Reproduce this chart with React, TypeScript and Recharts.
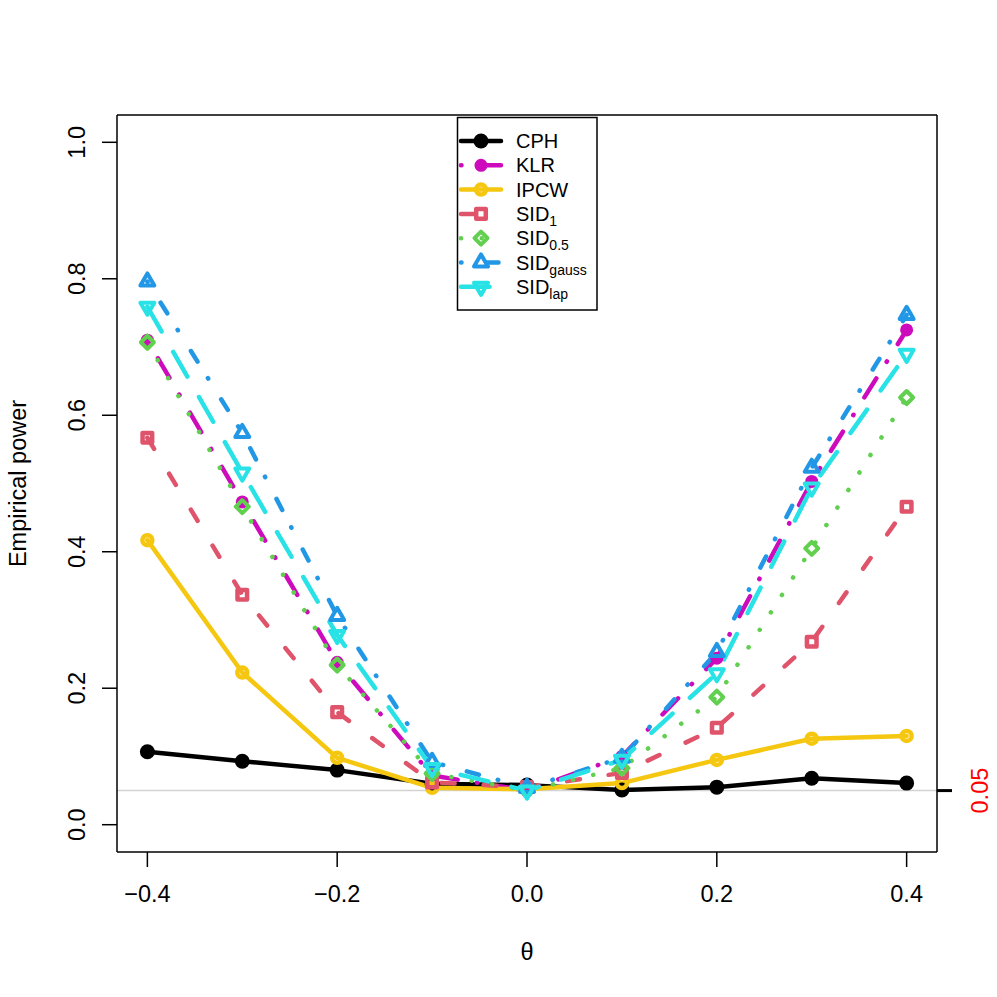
import React from 'react'
import { LineChart, Line, XAxis, YAxis, ReferenceLine } from 'recharts'

const thetaValues = [-0.4, -0.3, -0.2, -0.1, 0, 0.1, 0.2, 0.3, 0.4]
const cph = [0.107, 0.093, 0.08, 0.06, 0.058, 0.051, 0.055, 0.068, 0.061]
const klr = [0.71, 0.473, 0.238, 0.072, 0.05, 0.1, 0.244, 0.503, 0.725]
const ipcw = [0.417, 0.223, 0.098, 0.054, 0.052, 0.061, 0.095, 0.126, 0.13]
const sid1 = [0.567, 0.337, 0.165, 0.062, 0.055, 0.076, 0.142, 0.268, 0.466]
const sid05 = [0.707, 0.466, 0.234, 0.075, 0.05, 0.083, 0.187, 0.405, 0.626]
const sidGauss = [0.796, 0.574, 0.306, 0.092, 0.054, 0.098, 0.253, 0.523, 0.747]
const sidLap = [0.759, 0.516, 0.278, 0.083, 0.05, 0.095, 0.222, 0.494, 0.69]

const xTicks = [-0.4, -0.2, 0, 0.2, 0.4]
const yTicks = [0, 0.2, 0.4, 0.6, 0.8, 1.0]
const alphaLevel = 0.05

const FONT = '"Liberation Sans", Arial, Helvetica, sans-serif'
const LW = 4.5

type Marker = 'dot' | 'ring' | 'square' | 'diamond' | 'tri' | 'triDown'

interface Series {
  key: string
  name: string
  sub?: string
  color: string
  dash?: string
  marker: Marker
  size: number
}

const series: Series[] = [
  { key: 'cph', name: 'CPH', color: '#000000', marker: 'dot', size: 7.5 },
  { key: 'klr', name: 'KLR', color: '#CD0BBC', dash: '0.5 20.5 22.5 19.5', marker: 'dot', size: 6.5 },
  { key: 'ipcw', name: 'IPCW', color: '#F5C710', marker: 'ring', size: 5 },
  { key: 'sid1', name: 'SID', sub: '1', color: '#DF536B', dash: '13 29', marker: 'square', size: 4.8 },
  { key: 'sid05', name: 'SID', sub: '0.5', color: '#61D04F', dash: '0.1 20.6', marker: 'diamond', size: 6.5 },
  { key: 'sidGauss', name: 'SID', sub: 'gauss', color: '#2297E6', dash: '0.5 24.5 12.5 19.5', marker: 'tri', size: 7 },
  { key: 'sidLap', name: 'SID', sub: 'lap', color: '#28E2E5', dash: '28.5 23.5', marker: 'triDown', size: 7 },
]

const values: { [key: string]: number[] } = {
  cph, klr, ipcw, sid1, sid05, sidGauss, sidLap,
}

const data = thetaValues.map((t, i) => {
  const row: { [key: string]: number } = { theta: t }
  series.forEach(s => { row[s.key] = values[s.key][i] })
  return row
})

const drawMarker = (m: Marker, color: string, size: number, cx: number, cy: number, key?: string) => {
  const common = { fill: 'none', stroke: color, strokeWidth: 4, strokeLinejoin: 'round' as const }
  switch (m) {
    case 'dot':
      return <circle key={key} cx={cx} cy={cy} r={size} fill={color} />
    case 'ring':
      return <circle key={key} cx={cx} cy={cy} r={size} {...common} strokeWidth={4.5} />
    case 'square':
      return <rect key={key} x={cx - size} y={cy - size} width={size * 2} height={size * 2} {...common} strokeWidth={4.5} />
    case 'diamond':
      return <polygon key={key} points={`${cx},${cy - size} ${cx + size},${cy} ${cx},${cy + size} ${cx - size},${cy}`} {...common} />
    case 'tri': {
      const r = size * 1.155
      return <polygon key={key} points={`${cx},${cy - r} ${cx + size},${cy + r / 2} ${cx - size},${cy + r / 2}`} {...common} />
    }
    case 'triDown': {
      const r = size * 1.155
      return <polygon key={key} points={`${cx},${cy + r} ${cx + size},${cy - r / 2} ${cx - size},${cy - r / 2}`} {...common} />
    }
  }
}

const fmtX = (v: number) => (v < 0 ? '\u2212' + Math.abs(v).toFixed(1) : v.toFixed(1))

const XTick = (props: any) => {
  const { x, y, payload } = props
  return (
    <text x={x} y={y} dy="0.71em" textAnchor="middle" fontSize={23.5} fontFamily={FONT} fill="#000">
      {fmtX(payload.value)}
    </text>
  )
}

const YTick = (props: any) => {
  const { x, y, payload } = props
  return (
    <text x={x} y={y} dy="0.35em" textAnchor="middle" transform={`rotate(-90 ${x} ${y})`} fontSize={23.5} fontFamily={FONT} fill="#000">
      {payload.value.toFixed(1)}
    </text>
  )
}

const RightTick = (props: any) => {
  const { x, y, payload } = props
  return (
    <text x={x} y={y} dy="0.35em" textAnchor="middle" transform={`rotate(-90 ${x} ${y})`} fontSize={23.5} fontFamily={FONT} fill="#FF0000">
      {payload.value.toFixed(2)}
    </text>
  )
}

const LegendBox = () => {
  const left = 457.5
  const top = 117.5
  return (
    <svg width={997} height={997} style={{ position: 'absolute', left: 0, top: 0, pointerEvents: 'none' }}>
      <rect x={left} y={top} width={139.5} height={192.5} fill="#fff" stroke="#000" strokeWidth={1.5} />
      {series.map((s, i) => {
        const y = 141 + i * 24.3
        return (
          <g key={s.key}>
            <line x1={461} x2={501} y1={y} y2={y} stroke={s.color} strokeWidth={LW} strokeDasharray={s.dash} strokeLinecap="round" />
            {drawMarker(s.marker, s.color, s.size, 481, y)}
            <text x={516} y={y + 7} fontSize={20} fontFamily={FONT} fill="#000">
              {s.name}
              {s.sub && <tspan dy={5} fontSize={14}>{s.sub}</tspan>}
            </text>
          </g>
        )
      })}
    </svg>
  )
}

export default function App() {
  return (
    <div style={{ position: 'absolute', left: 0, top: 0, width: 997, height: 997, background: '#fff' }}>
      <LineChart width={997} height={997} data={data} margin={{ top: 115, right: 0, bottom: 0, left: 0 }}>
        <XAxis
          dataKey="theta"
          type="number"
          domain={[-0.432, 0.432]}
          ticks={xTicks}
          allowDataOverflow
          height={145}
          tickSize={15}
          tickMargin={18}
          tick={<XTick />}
          stroke="#000"
          strokeWidth={1.5}
          tickLine={{ stroke: '#000', strokeWidth: 1.5 }}
          label={(p: any) => (
            <text x={527} y={960} textAnchor="middle" fontSize={23.5} fontFamily={FONT} fill="#000">θ</text>
          )}
        />
        <YAxis
          yAxisId="left"
          type="number"
          domain={[-0.04, 1.04]}
          ticks={yTicks}
          allowDataOverflow
          width={117}
          tickSize={15}
          tickMargin={25}
          tick={<YTick />}
          stroke="#000"
          strokeWidth={1.5}
          tickLine={{ stroke: '#000', strokeWidth: 1.5 }}
          label={(p: any) => (
            <text x={26} y={483.5} textAnchor="middle" transform="rotate(-90 26 483.5)" fontSize={23.5} fontFamily={FONT} fill="#000">
              Empirical power
            </text>
          )}
        />
        <YAxis
          yAxisId="right"
          orientation="right"
          type="number"
          domain={[-0.04, 1.04]}
          ticks={[alphaLevel]}
          allowDataOverflow
          width={60}
          tickSize={15}
          tickMargin={28}
          tick={<RightTick />}
          stroke="#000"
          strokeWidth={1.5}
          tickLine={{ stroke: '#000', strokeWidth: 3 }}
        />
        <ReferenceLine yAxisId="left" y={alphaLevel} stroke="#D3D3D3" strokeWidth={1.5} />
        <ReferenceLine yAxisId="left" y={1.04} stroke="#000" strokeWidth={1.5} />
        {series.map(s => (
          <Line
            key={s.key}
            yAxisId="left"
            dataKey={s.key}
            type="linear"
            stroke={s.color}
            strokeWidth={LW}
            strokeDasharray={s.dash}
            strokeLinecap="round"
            strokeLinejoin="round"
            isAnimationActive={false}
            dot={(p: any) => drawMarker(s.marker, s.color, s.size, p.cx, p.cy, `${s.key}-${p.index}`)}
            activeDot={false}
          />
        ))}
      </LineChart>
      <LegendBox />
    </div>
  )
}
